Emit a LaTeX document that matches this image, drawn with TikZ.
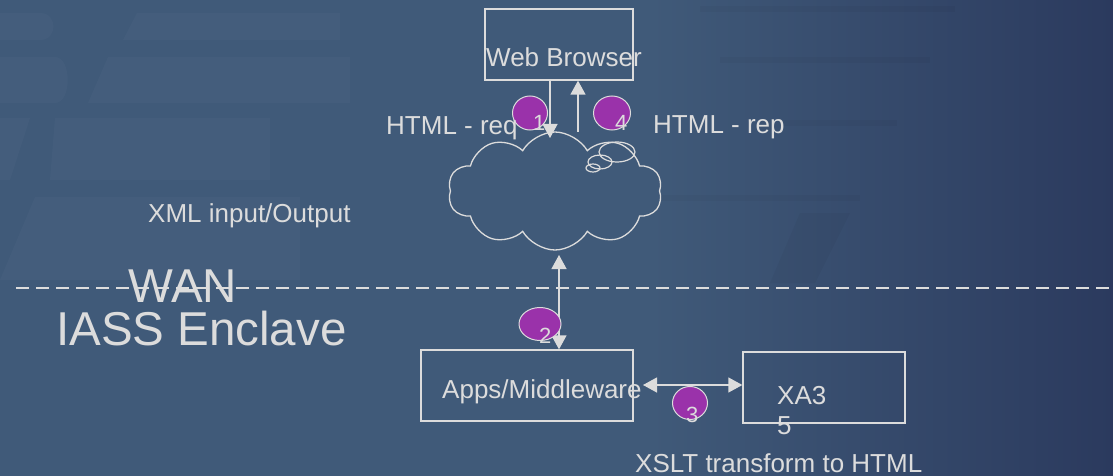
\documentclass[tikz,border=0pt]{standalone}
\usepackage{fontspec}
\setmainfont{Liberation Sans}
\usetikzlibrary{shapes.symbols,shapes.geometric,arrows.meta}
\definecolor{bgL}{HTML}{405A79}
\definecolor{bgR}{HTML}{2B3A5E}
\definecolor{ink}{HTML}{DCDCDC}
\definecolor{purp}{HTML}{9A32AA}
\tikzset{
  box/.style={draw=ink, line width=1.3pt, minimum width=#1, inner sep=0pt},
  lbl/.style={text=ink, inner sep=0pt, anchor=base west, font=\fontsize{26}{30}\selectfont},
  big/.style={text=ink, inner sep=0pt, anchor=base west, font=\fontsize{47.5}{52}\selectfont},
  num/.style={text=ink, inner sep=0pt, anchor=base west, font=\fontsize{22}{24}\selectfont},
  badge/.style={ellipse, draw=ink, fill=purp, line width=1pt, inner sep=0pt},
  arr/.style={draw=ink, line width=1.3pt, -{Triangle[length=14pt,width=15pt]}},
  dbl/.style={draw=ink, line width=1.3pt, {Triangle[length=14pt,width=15pt]}-{Triangle[length=14pt,width=15pt]}},
  wm/.style={fill=white, fill opacity=0.025, draw=none},
  wd/.style={fill=black, fill opacity=0.03, draw=none},
}
\begin{document}
\begin{tikzpicture}[x=1pt,y=-1pt]
\useasboundingbox (0,0) rectangle (1113,476);
% background
\fill[bgL] (0,0) rectangle (1113,476);
\shade[left color=bgL, right color=bgR] (650,0) rectangle (1113,476);
% faint watermark (left)
\fill[wm] (0,13) -- (40,13) .. controls (58,13) and (58,40) .. (40,40) -- (0,40) -- cycle;
\fill[wm] (137,13) -- (340,13) -- (340,40) -- (123,40) -- cycle;
\fill[wm] (0,57) -- (55,57) .. controls (72,57) and (72,103) .. (55,103) -- (0,103) -- cycle;
\fill[wm] (108,57) -- (350,57) -- (350,103) -- (88,103) -- cycle;
\fill[wm] (55,118) -- (270,118) -- (270,180) -- (50,180) -- cycle;
\fill[wm] (0,118) -- (30,118) -- (10,180) -- (0,180) -- cycle;
\fill[wm] (35,197) -- (300,197) -- (300,280) -- (0,280) -- cycle;
% faint watermark (right)
\fill[wd] (700,6) rectangle (955,12);
\fill[wd] (720,57) rectangle (930,63);
\fill[wd] (780,120) rectangle (897,126);
\fill[wd] (660,195) rectangle (860,201);
\fill[wd] (800,213) -- (850,213) -- (815,283) -- (770,283) -- cycle;
% dashed separator
\coordinate (dl) at (16,288);
\coordinate (dr) at (1113,288);
\draw[ink, line width=2pt, dash pattern=on 13pt off 7pt] (dl) -- (dr);
% boxes
\node[box=148pt, minimum height=71pt] (browser) at (559,44.5) {};
\node[box=212pt, minimum height=71pt] (apps) at (527,385.5) {};
\node[box=162pt, minimum height=71pt] (xa) at (824,387.5) {};
% cloud
\node[cloud, draw=ink, line width=1.3pt, cloud puffs=10, cloud puff arc=120, aspect=1.8,
      minimum width=214pt, minimum height=118pt, inner sep=0pt] (cloud) at (555,191) {};
\draw[ink, line width=1.2pt] (617,152) ellipse (18pt and 10pt);
\draw[ink, line width=1.2pt] (600,162) ellipse (12pt and 7pt);
\draw[ink, line width=1.2pt] (593,168) ellipse (7pt and 4pt);
% connectors
\coordinate (dntip) at (550,138);
\coordinate (upbase) at (578,132);
\coordinate (cbot) at (559,255);
\coordinate (hl) at (643,385);
\draw[arr] (browser.south -| dntip) -- (dntip);
\draw[arr] (upbase) -- (upbase |- browser.south);
\draw[dbl] (cbot) -- (cbot |- apps.north);
\draw[dbl] (hl) -- (xa.west |- hl);
% badges
\node[badge, minimum width=35pt, minimum height=34pt] (b1) at (530,113) {};
\node[badge, minimum width=37pt, minimum height=34pt] (b4) at (612,113) {};
\node[badge, minimum width=42pt, minimum height=33pt] (b2) at (540,324) {};
\node[badge, minimum width=35pt, minimum height=33pt] (b3) at (690,403) {};
\node[num] (n1) at (533,131) {1};
\node[num] (n4) at (615,131) {4};
\node[num] (n2) at (539,343) {2};
\node[num] (n3) at (686,422) {3};
% texts
\node[lbl] (tweb) at (486,67) {Web Browser};
\node[lbl] (treq) at (386,135) {HTML - req};
\node[lbl] (trep) at (653,134) {HTML - rep};
\node[lbl] (txml) at (148,222) {XML input/Output};
\node[big] (twan) at (128,302) {WAN};
\node[big] (tiass) at (56,345) {IASS Enclave};
\node[lbl] (tapps) at (442,398) {Apps/Middleware};
\node[lbl] (txa) at (777,404) {XA3};
\node[lbl] (txa5) at (777,434) {5};
\node[lbl] (txslt) at (635,472) {XSLT transform to HTML};
\end{tikzpicture}
\end{document}
